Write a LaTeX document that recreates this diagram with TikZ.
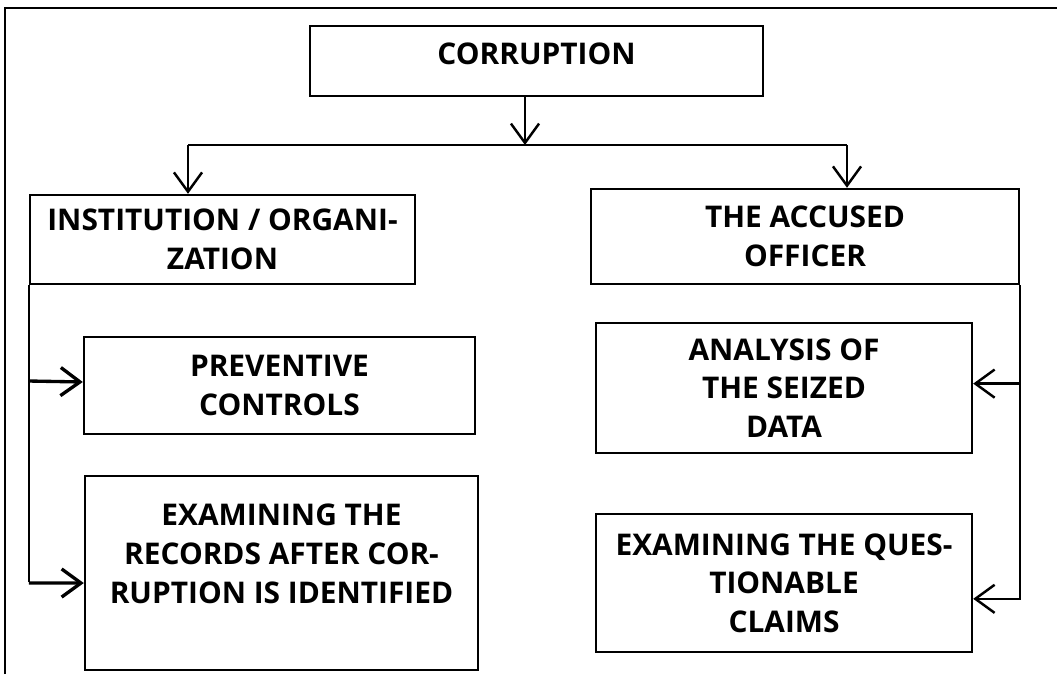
\documentclass[tikz,border=0pt]{standalone}
\usepackage{fontspec}
\setmainfont{Open Sans}
\usetikzlibrary{positioning,arrows.meta}

\begin{document}
\begin{tikzpicture}[x=0.02cm, y=-0.02cm,
    box/.style={draw, line width=1.4pt, align=center, inner sep=2pt,
        font=\bfseries\fontsize{17}{22}\selectfont},
    arr/.style={-{Straight Barb[length=11pt, width=16pt]}, line width=1.4pt},
    thickarr/.style={arr, line width=1.9pt}]
    \useasboundingbox (0,0) rectangle (1057,674);

    % Frame
    \draw[line width=1.4pt] (5,674) -- (5,8) -- (1057,8);

    % Top box
    \node[box, minimum width=9.06cm, minimum height=1.4cm, text depth=8pt] (corr) at (536.5,61) {CORRUPTION};

    % Two branches
    \node[box, minimum width=7.7cm, minimum height=1.78cm] (inst) at (222.5,239.5) {INSTITUTION / ORGANI-\\ZATION};
    \node[box, minimum width=8.56cm, minimum height=1.9cm] (acc) at (805,236.5) {THE ACCUSED\\OFFICER};

    % Left column
    \node[box, minimum width=7.82cm, minimum height=1.94cm] (prev) at (279.5,385.5) {PREVENTIVE\\CONTROLS};
    \node[box, minimum width=7.86cm, minimum height=3.88cm] (recs) at (281.5,573) {EXAMINING THE\\RECORDS AFTER COR-\\RUPTION IS IDENTIFIED\\\mbox{}};

    % Right column
    \node[box, minimum width=7.52cm, minimum height=2.6cm] (ana) at (784,388) {ANALYSIS OF\\THE SEIZED\\DATA};
    \node[box, minimum width=7.52cm, minimum height=2.76cm] (ques) at (784,583) {EXAMINING THE QUES-\\TIONABLE\\CLAIMS};

    % Connectors
    \coordinate (mid) at (525,145);
    \coordinate (lft) at (188,145);
    \coordinate (rgt) at (847,145);
    \draw[arr] (corr.south -| mid) -- (mid);
    \draw[line width=1.4pt] (lft) -- (rgt);
    \draw[arr] (lft) -- (lft |- inst.north);
    \draw[arr] (rgt) -- (rgt |- acc.north);

    \draw[line width=1.4pt] (inst.south west) -- ++(0,297);
    \draw[thickarr] (inst.south west |- 0,381) -- ([yshift=2pt]prev.west);
    \draw[thickarr] (inst.south west |- 0,583) -- ([yshift=-5.7pt]recs.west);
    \draw[arr] (acc.south east) |- ([yshift=2.5pt]ana.east);
    \draw[arr] (acc.south east) |- ([yshift=-9pt]ques.east);
\end{tikzpicture}
\end{document}
